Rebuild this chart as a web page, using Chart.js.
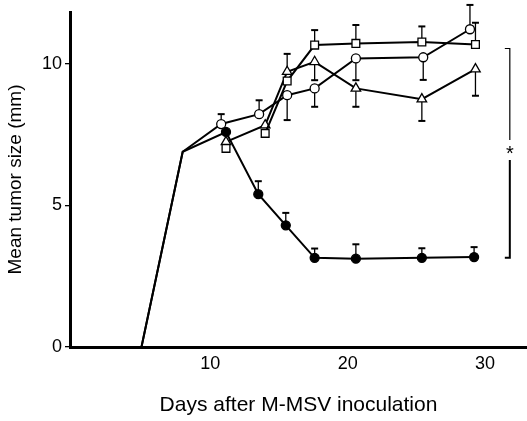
<!DOCTYPE html>
<html>
<head>
<meta charset="utf-8">
<script src="https://cdn.jsdelivr.net/npm/chart.js@4.4.1/dist/chart.umd.min.js"></script>
<style>
  html, body { margin: 0; padding: 0; background: #fff; overflow: hidden; }
  canvas { display: block; }
</style>
</head>
<body>
<canvas id="grafico" width="527" height="421"></canvas>
<script>
// days after inoculation and mean tumor size (mm), one set per group
const filledDays = [5, 8, 11.15, 13.5, 15.5, 17.6, 20.6, 25.4, 29.2];
const filledSize = [0, 6.9, 7.6, 5.4, 4.3, 3.15, 3.12, 3.15, 3.18];
const filledErr  = [0, 0, 0, 0.46, 0.44, 0.33, 0.51, 0.34, 0.35];

const circleDays = [5, 8, 10.8, 13.56, 15.6, 17.6, 20.6, 25.5, 28.9];
const circleSize = [0, 6.9, 7.88, 8.23, 8.9, 9.14, 10.2, 10.24, 11.23];
const circleErr  = [0, 0, 0.35, 0.49, -0.88, -0.65, -0.77, -0.8, 0.86];

const triangleDays = [5, 8, 11.15, 14.0, 15.6, 17.6, 20.6, 25.4, 29.3];
const triangleSize = [0, 6.9, 7.25, 7.84, 9.73, 10.08, 9.14, 8.76, 9.82];
const triangleErr  = [0, 0, 0, 0, 0.63, -0.65, -0.65, -0.77, -0.94];

const squareDays = [5, 8, 11.15, 14.0, 15.6, 17.6, 20.6, 25.4, 29.3];
const squareSize = [0, 6.9, 7.02, 7.55, 9.4, 10.67, 10.73, 10.78, 10.69];
const squareErr  = [0, 0, 0, 0, 0, 0.53, 0.65, 0.55, 0.77];

const xTickValues = [10, 20, 30];
const yTickValues = [0, 5, 10];

// significance bracket (*)
const bracketDay = 31.8;
const bracketTop = 10.55;
const bracketBottom = 3.15;
const bracketMid = 6.96;

function toPoints(days, sizes) {
    return days.map((d, i) => ({ x: d, y: sizes[i] }));
}

const errorBars = {
    id: 'errorBars',
    beforeDatasetsDraw(chart) {
        const ctx = chart.ctx;
        const xs = chart.scales.x;
        const ys = chart.scales.y;
        ctx.save();
        ctx.strokeStyle = '#000';
        chart.data.datasets.forEach(ds => {
            if (!ds.errors) return;
            ds.data.forEach((p, i) => {
                const e = ds.errors[i];
                if (!e) return;
                const px = xs.getPixelForValue(p.x);
                const y0 = ys.getPixelForValue(p.y);
                const y1 = ys.getPixelForValue(p.y + e);
                ctx.lineWidth = 1.3;
                ctx.beginPath();
                ctx.moveTo(px, y0);
                ctx.lineTo(px, y1);
                ctx.stroke();
                ctx.lineWidth = 2;
                ctx.beginPath();
                ctx.moveTo(px - 3.5, y1);
                ctx.lineTo(px + 3.5, y1);
                ctx.stroke();
            });
        });
        ctx.restore();
    },
    afterDraw(chart) {
        const ctx = chart.ctx;
        const bx = chart.scales.x.getPixelForValue(bracketDay);
        const ys = chart.scales.y;
        const yt = ys.getPixelForValue(bracketTop);
        const yb = ys.getPixelForValue(bracketBottom);
        const ym = ys.getPixelForValue(bracketMid);
        ctx.save();
        ctx.strokeStyle = '#000';
        ctx.lineWidth = 1.2;
        ctx.beginPath();
        ctx.moveTo(bx - 5, yt);
        ctx.lineTo(bx, yt);
        ctx.lineTo(bx, ym - 10);
        ctx.stroke();
        ctx.lineWidth = 2;
        ctx.beginPath();
        ctx.moveTo(bx, ym + 10);
        ctx.lineTo(bx, yb);
        ctx.lineTo(bx - 5, yb);
        ctx.stroke();
        ctx.fillStyle = '#000';
        ctx.font = '20px "Liberation Sans", Arial';
        ctx.textAlign = 'center';
        ctx.textBaseline = 'middle';
        ctx.fillText('*', bx, ym + 4);
        ctx.restore();
    }
};

const lineBase = {
    borderColor: '#000',
    borderWidth: 2,
    pointBorderColor: '#000',
    pointBorderWidth: 1.3,
    tension: 0
};

const ctx = document.getElementById('grafico').getContext('2d');
new Chart(ctx, {
    type: 'line',
    data: {
        datasets: [
            Object.assign({}, lineBase, {
                label: 'square',
                data: toPoints(squareDays, squareSize),
                errors: squareErr,
                pointStyle: 'rect',
                pointRadius: squareDays.map((d, i) => i < 2 ? 0 : 5.5),
                pointBackgroundColor: '#fff',
                segment: { borderColor: c => c.p1DataIndex <= 3 ? 'rgba(0,0,0,0)' : '#000' }
            }),
            Object.assign({}, lineBase, {
                label: 'triangle',
                data: toPoints(triangleDays, triangleSize),
                errors: triangleErr,
                pointStyle: 'triangle',
                pointRadius: triangleDays.map((d, i) => i < 2 ? 0 : 5.5),
                pointBackgroundColor: '#fff',
                segment: { borderColor: c => c.p1DataIndex <= 2 ? 'rgba(0,0,0,0)' : '#000' }
            }),
            Object.assign({}, lineBase, {
                label: 'circle',
                data: toPoints(circleDays, circleSize),
                errors: circleErr,
                pointStyle: 'circle',
                pointRadius: circleDays.map((d, i) => i < 2 ? 0 : 4.5),
                pointBackgroundColor: '#fff'
            }),
            Object.assign({}, lineBase, {
                label: 'filled',
                data: toPoints(filledDays, filledSize),
                errors: filledErr,
                pointStyle: 'circle',
                pointRadius: filledDays.map((d, i) => i < 2 ? 0 : 4.5),
                pointBackgroundColor: '#000'
            })
        ]
    },
    options: {
        responsive: false,
        animation: false,
        layout: { autoPadding: false, padding: { top: 12, right: 0, left: 0, bottom: 0 } },
        plugins: {
            legend: { display: false },
            tooltip: { enabled: false }
        },
        scales: {
            x: {
                type: 'linear',
                min: -0.2,
                max: 33.05,
                afterFit: s => { s.height = 74; s.paddingLeft = 0; s.paddingRight = 0; },
                afterBuildTicks: s => { s.ticks = xTickValues.map(v => ({ value: v })); },
                grid: { display: false, tickLength: 0 },
                border: { color: '#000', width: 3 },
                ticks: {
                    color: '#000',
                    padding: 6,
                    font: { family: '"Liberation Sans Narrow", "Liberation Sans", Arial', size: 18 }
                },
                title: {
                    display: true,
                    text: 'Days after M-MSV inoculation',
                    color: '#000',
                    font: { family: '"Liberation Sans", Arial', size: 21 },
                    padding: { top: 0, bottom: 3 }
                }
            },
            y: {
                type: 'linear',
                min: 0,
                max: 11.84,
                afterFit: s => { s.width = 70; s.paddingTop = 0; s.paddingBottom = 0; },
                afterBuildTicks: s => { s.ticks = yTickValues.map(v => ({ value: v })); },
                grid: { drawOnChartArea: false, tickLength: 5, color: '#000', lineWidth: 1.3 },
                border: { color: '#000', width: 3 },
                ticks: {
                    color: '#000',
                    padding: 3,
                    font: { family: '"Liberation Sans Narrow", "Liberation Sans", Arial', size: 18 }
                },
                title: {
                    display: true,
                    text: 'Mean tumor size (mm)',
                    color: '#000',
                    font: { family: '"Liberation Sans", Arial', size: 19 },
                    padding: { top: 4, bottom: 0 }
                }
            }
        }
    },
    plugins: [errorBars]
});
</script>
</body>
</html>
